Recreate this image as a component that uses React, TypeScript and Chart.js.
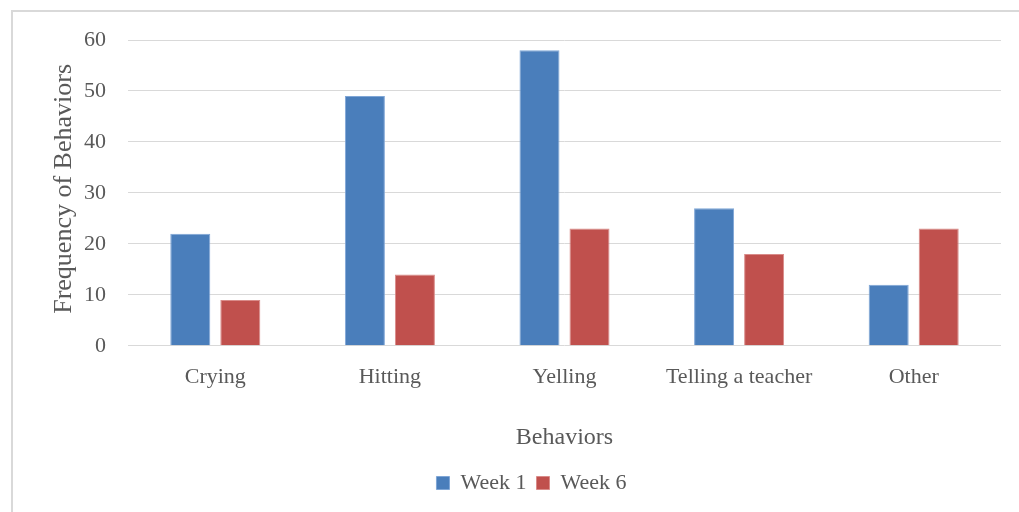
import React, { useEffect, useRef } from "react";
import { Chart, registerables } from "chart.js";

Chart.register(...registerables);

const categories = ["Crying", "Hitting", "Yelling", "Telling a teacher", "Other"];
const week1 = [22, 49, 58, 27, 12];
const week6 = [9, 14, 23, 18, 23];
const yTicks = [0, 10, 20, 30, 40, 50, 60];
const yTitle = "Frequency of Behaviors";
const xTitle = "Behaviors";

const FONT = "'Liberation Serif', 'Times New Roman', serif";
const TEXT = "#595959";

const yTitlePlugin = {
  id: "yTitlePlugin",
  afterDraw(chart: any) {
    const { ctx, chartArea } = chart;
    ctx.save();
    ctx.translate(64, (chartArea.top + chartArea.bottom) / 2 - 4);
    ctx.rotate(-Math.PI / 2);
    ctx.font = `26px ${FONT}`;
    ctx.fillStyle = TEXT;
    ctx.textAlign = "center";
    ctx.textBaseline = "middle";
    ctx.fillText(yTitle, 0, 0);
    ctx.restore();
  },
};

export default function App() {
  const ref = useRef<HTMLCanvasElement | null>(null);
  useEffect(() => {
    if (!ref.current) return;
    const chart = new Chart(ref.current, {
      type: "bar",
      data: {
        labels: categories,
        datasets: [
          {
            label: "Week 1",
            data: week1,
            backgroundColor: "#4A7EBB",
            borderColor: "#7FA6D6",
            borderWidth: 1,
            categoryPercentage: 0.573,
            barPercentage: 0.8,
          },
          {
            label: "Week 6",
            data: week6,
            backgroundColor: "#C0504D",
            borderColor: "#D98B89",
            borderWidth: 1,
            categoryPercentage: 0.573,
            barPercentage: 0.8,
          },
        ],
      },
      plugins: [yTitlePlugin],
      options: {
        animation: false,
        responsive: false,
        maintainAspectRatio: false,
        layout: { padding: { top: 40, right: 18, left: 62, bottom: 8 } },
        plugins: {
          tooltip: { enabled: false },
          legend: {
            position: "bottom",
            labels: {
              font: { family: FONT, size: 22 },
              color: TEXT,
              boxWidth: 13,
              boxHeight: 13,
              padding: 10,
            },
          },
        },
        scales: {
          x: {
            grid: { display: false },
            border: { display: false },
            ticks: { font: { family: FONT, size: 22 }, color: TEXT, padding: 10 },
            title: {
              display: true,
              text: xTitle,
              font: { family: FONT, size: 24 },
              color: TEXT,
              padding: { top: 23, bottom: 10 },
            },
          },
          y: {
            min: 0,
            max: 60,
            afterBuildTicks: (axis: any) => {
              axis.ticks = yTicks.map((v) => ({ value: v }));
            },
            grid: { color: "#d9d9d9", lineWidth: 1, drawTicks: false },
            border: { display: false },
            ticks: { font: { family: FONT, size: 22 }, color: TEXT, padding: 22 },
          },
        },
      },
    });
    return () => chart.destroy();
  }, []);
  return (
    <div style={{ position: "fixed", left: 0, top: 0, width: 1019, height: 512, background: "#fff", overflow: "hidden" }}>
      <div
        style={{
          position: "absolute",
          left: 11,
          top: 10,
          width: 1030,
          height: 520,
          border: "2px solid #d9d9d9",
          boxSizing: "border-box",
        }}
      />
      <canvas ref={ref} width={1019} height={512} style={{ position: "absolute", left: 0, top: 0 }} />
    </div>
  );
}
